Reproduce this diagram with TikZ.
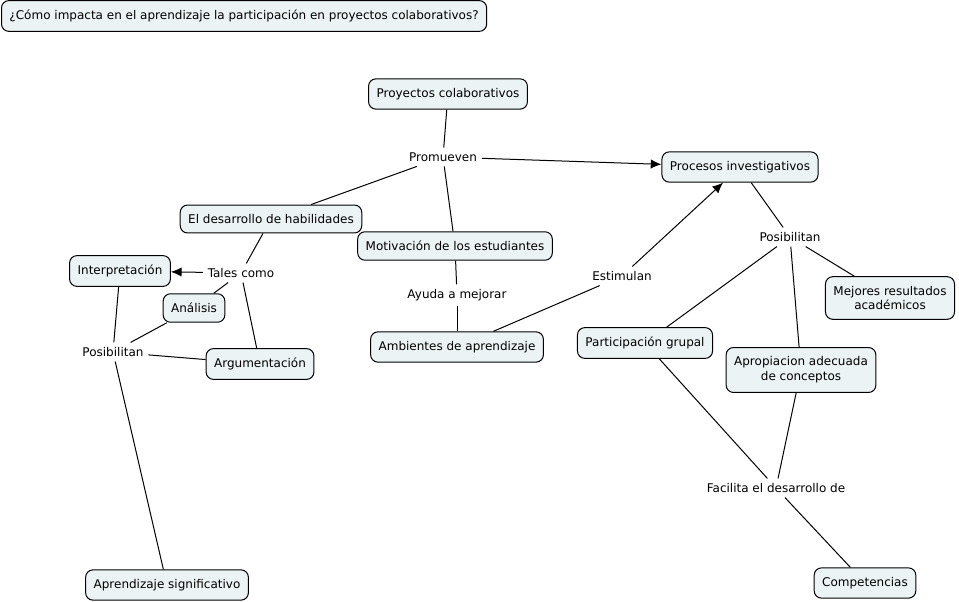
\documentclass[tikz,border=0pt]{standalone}
\usepackage{fontspec}
\setmainfont{DejaVu Sans}
\usetikzlibrary{arrows.meta}
\definecolor{cfill}{HTML}{ECF3F5}
\tikzset{
  concept/.style={draw=black, fill=cfill, rounded corners=5.5, inner xsep=6, inner ysep=7, font=\fontsize{9}{11}\selectfont, align=center, line width=0.75pt},
  phrase/.style={inner sep=3.5, font=\fontsize{9}{11}\selectfont},
  link/.style={draw=black, line width=0.75pt},
  arr/.style={link, -{Latex[length=8pt,width=7pt]}},
}
\begin{document}
\begin{tikzpicture}[x=0.75pt,y=-0.75pt]
\useasboundingbox (0,0) rectangle (959,602);
\node[concept, anchor=west] (title) at (1,16) {¿Cómo impacta en el aprendizaje la participación en proyectos colaborativos?};
\node[concept] (proy) at (448,94) {Proyectos colaborativos};
\node[phrase] (prom) at (443,157) {Promueven};
\node[concept] (proc) at (740,167) {Procesos investigativos};
\node[concept] (desa) at (271,219) {El desarrollo de habilidades};
\node[concept] (moti) at (455,246) {Motivación de los estudiantes};
\node[phrase] (tales) at (241,273) {Tales como};
\node[concept] (interp) at (120,271) {Interpretación};
\node[concept] (anal) at (194,308) {Análisis};
\node[phrase] (posl) at (113,352) {Posibilitan};
\node[concept] (argu) at (260,364) {Argumentación};
\node[phrase] (ayuda) at (457,295) {Ayuda a mejorar};
\node[concept] (amb) at (457,347) {Ambientes de aprendizaje};
\node[phrase] (estim) at (622,276) {Estimulan};
\node[phrase] (posr) at (790,237) {Posibilitan};
\node[concept] (mejo) at (890,298) {Mejores resultados\\académicos};
\node[concept] (part) at (645,343) {Participación grupal};
\node[concept] (apro) at (801,370) {Apropiacion adecuada\\de conceptos};
\node[phrase] (facil) at (776,488) {Facilita el desarrollo de};
\node[concept] (apren) at (167,585) {Aprendizaje significativo};
\node[concept] (comp) at (865,583) {Competencias};

\draw[link] (proy) -- (prom);
\draw[arr] (prom) -- (proc);
\draw[link] (prom) -- (desa);
\draw[link] (prom) -- (moti);
\draw[link] (desa) -- (tales);
\draw[arr] (tales) -- (interp);
\draw[link] (tales) -- (anal);
\draw[link] (tales) -- (argu);
\draw[link] (interp) -- (posl);
\draw[link] (anal) -- (posl);
\draw[link] (argu) -- (posl);
\draw[link] (posl) -- (apren);
\draw[link] (moti) -- (ayuda);
\draw[link] (ayuda) -- (amb);
\draw[link] (amb) -- (estim);
\draw[arr] (estim) -- (proc);
\draw[link] (proc) -- (posr);
\draw[link] (posr) -- (mejo);
\draw[link] (posr) -- (part);
\draw[link] (posr) -- (apro);
\draw[link] (part) -- (facil);
\draw[link] (apro) -- (facil);
\draw[link] (facil) -- (comp);
\end{tikzpicture}
\end{document}
